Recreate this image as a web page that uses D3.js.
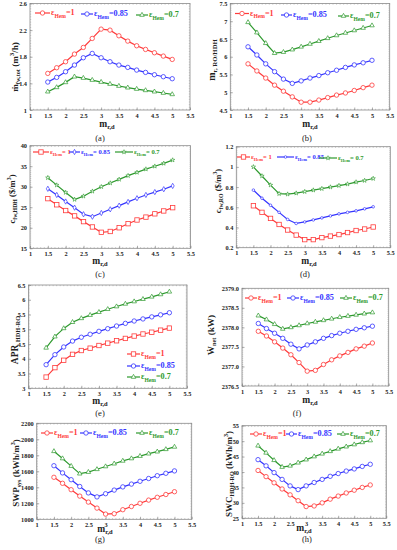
<!DOCTYPE html>
<html><head><meta charset="utf-8">
<script src="https://cdn.jsdelivr.net/npm/d3@7"></script>
<style>body{margin:0;background:#fff}svg{display:block}</style>
</head><body>
<script>
// ---------- data ----------
const xValues = [1.5,1.75,2,2.25,2.5,2.75,3,3.25,3.5,3.75,4,4.25,4.5,4.75,5];
const xTicks = [1,1.5,2,2.5,3,3.5,4,4.5,5,5.5];
const seriesNames = ["1","0.85","0.7"];

const aRed   = [1.55,1.635,1.725,1.84,1.94,2.075,2.215,2.2,2.115,2.035,1.965,1.91,1.86,1.81,1.76];
const aBlue  = [1.42,1.49,1.575,1.675,1.785,1.85,1.785,1.725,1.675,1.64,1.6,1.565,1.53,1.5,1.47];
const aGreen = [1.275,1.34,1.415,1.5,1.48,1.45,1.42,1.39,1.36,1.335,1.315,1.295,1.275,1.255,1.235];
const aTicks = [1,1.4,1.8,2.2,2.6];

const bRed   = [5.8,5.6,5.4,5.2,5.03,4.87,4.72,4.72,4.78,4.85,4.92,4.98,5.05,5.13,5.2];
const bBlue  = [6.28,6.05,5.8,5.58,5.37,5.25,5.32,5.4,5.47,5.55,5.62,5.7,5.77,5.83,5.9];
const bGreen = [6.97,6.68,6.38,6.1,6.13,6.2,6.28,6.36,6.44,6.52,6.6,6.67,6.74,6.81,6.88];
const bTicks = [4.5,5,5.5,6,6.5,7,7.5];

const cRed   = [27.1,25.6,24.2,22.9,21.5,20.2,18.9,19.1,20.0,21.0,21.9,22.6,23.4,24.1,24.9];
const cBlue  = [29.5,28.0,26.4,24.9,23.3,22.7,23.6,24.5,25.4,26.3,27.2,28.0,28.7,29.4,30.2];
const cGreen = [32.2,30.4,28.6,26.9,27.7,28.9,30.0,30.9,31.8,32.7,33.5,34.3,35.0,35.7,36.5];
const cTicks = [15,20,25,30,35,40];

const dRed   = [0.615,0.55,0.49,0.43,0.375,0.325,0.28,0.28,0.3,0.315,0.33,0.35,0.37,0.385,0.405];
const dBlue  = [0.77,0.69,0.62,0.55,0.48,0.44,0.455,0.475,0.495,0.515,0.535,0.55,0.565,0.585,0.605];
const dGreen = [1.0,0.91,0.82,0.735,0.73,0.74,0.755,0.77,0.785,0.8,0.815,0.83,0.85,0.865,0.885];
const dTicks = [0.2,0.4,0.6,0.8,1,1.2];

const eRed   = [3.38,3.7,3.95,4.15,4.28,4.36,4.45,4.53,4.61,4.69,4.77,4.84,4.9,4.97,5.04];
const eBlue  = [3.8,4.14,4.4,4.6,4.73,4.83,4.93,5.02,5.11,5.2,5.28,5.35,5.42,5.49,5.56];
const eGreen = [4.37,4.75,5.03,5.24,5.37,5.48,5.58,5.68,5.77,5.86,5.94,6.02,6.1,6.18,6.27];
const eTicks = [3,3.5,4,4.5,5,5.5,6,6.5];

const fRed   = [2377.9,2377.78,2377.63,2377.47,2377.3,2377.1,2376.88,2376.9,2377.05,2377.17,2377.27,2377.36,2377.45,2377.52,2377.6];
const fBlue  = [2378.1,2377.97,2377.85,2377.72,2377.57,2377.45,2377.55,2377.63,2377.72,2377.79,2377.85,2377.9,2377.95,2377.99,2378.03];
const fGreen = [2378.3,2378.2,2378.08,2377.96,2378.0,2378.05,2378.1,2378.14,2378.18,2378.22,2378.26,2378.29,2378.32,2378.35,2378.38];
const fTicks = [2376.5,2377.0,2377.5,2378.0,2378.5,2379.0];

const gRed   = [1525,1450,1370,1290,1215,1140,1065,1070,1120,1160,1200,1240,1275,1310,1345];
const gBlue  = [1670,1580,1495,1410,1330,1280,1320,1365,1405,1440,1475,1510,1545,1575,1605];
const gGreen = [1850,1760,1665,1570,1590,1625,1660,1695,1730,1760,1790,1820,1845,1875,1905];
const gTicks = [1000,1200,1400,1600,1800,2000,2200];

const hRed   = [40.5,38.5,36.5,34.5,32.6,30.7,28.8,29.0,30.0,31.2,32.2,33.2,34.1,35.0,35.8];
const hBlue  = [44.0,42.0,39.8,37.6,35.5,34.3,35.5,36.6,37.6,38.6,39.5,40.3,41.0,41.8,42.5];
const hGreen = [48.5,46.2,43.8,41.6,42.0,43.0,44.0,45.0,45.9,46.7,47.5,48.2,48.9,49.6,50.2];
const hTicks = [25,30,35,40,45,50,55];

// ---------- layout / style ----------
const colors = ["#ff3b3b","#3535ff","#2e9a2e"];
const FONT = "'Liberation Serif','DejaVu Serif',serif";

const panels = [
 {tag:"(a)", data:[aRed,aBlue,aGreen], ticks:aTicks, fmt:d=>String(d), box:[30,190,3.5,110], mk:["circle","circle","tri"],
  title:[{t:"\u1E41"},{t:"fw,tot",s:1},{t:"  (m"},{t:"3",p:1},{t:"/h)"}], tsz:9.2, tx:12, ty:67,
  leg:[[35,13,15],[81,14,12],[136,15,12]], lsz:8.2, legGap:"", label:[100,141], xt:[107,127]},
 {tag:"(b)", data:[bRed,bBlue,bGreen], ticks:bTicks, fmt:d=>String(d), box:[230.3,389.7,3.5,110], mk:["circle","circle","tri"],
  title:[{t:"m"},{t:"r, RO/HDH",s:1}], tsz:10, tx:209, ty:60,
  leg:[[235,13.5,14],[281,15,11],[338,16,11]], lsz:8.2, legGap:"", label:[307,141], xt:[310,127]},
 {tag:"(c)", data:[cRed,cBlue,cGreen], ticks:cTicks, fmt:d=>String(d), box:[30,190.5,145.7,248.3], mk:["square","diamond","star"],
  title:[{t:"c"},{t:"fw,HDH",s:1},{t:" ($/m"},{t:"3",p:1},{t:")"}], tsz:8.6, tx:9, ty:199,
  leg:[[33,152,16],[69,152,11],[115,152,18]], lsz:6.6, legGap:" ", label:[100,277], xt:[100,264]},
 {tag:"(d)", data:[dRed,dBlue,dGreen], ticks:dTicks, fmt:d=>String(d), box:[236.3,390.3,146.7,247.7], mk:["square","dot","star"],
  title:[{t:"c"},{t:"fw,RO",s:1},{t:" ($/m"},{t:"3",p:1},{t:")"}], tsz:8.6, tx:215, ty:191,
  leg:[[237,157,13],[277,157,17],[319,158,18]], lsz:6.6, legGap:" ", label:[305,277], xt:[309,264]},
 {tag:"(e)", data:[eRed,eBlue,eGreen], ticks:eTicks, fmt:d=>String(d), box:[28.5,187,285,388.3], mk:["square","circle","tri"],
  title:[{t:"APR "},{t:"HDH-RO",s:1}], tsz:9.5, tx:12, ty:340,
  leg:[[127,354,13],[127,366,13],[127,377,13]], lsz:8.2, legGap:"", label:[100,416], xt:[100,404]},
 {tag:"(f)", data:[fRed,fBlue,fGreen], ticks:fTicks, fmt:d3.format(".1f"), box:[242,388.7,288.3,386], mk:["circle","circle","tri"],
  title:[{t:"\u1E86"},{t:"net",s:1},{t:"  (kW)"}], tsz:9.2, tx:208, ty:335,
  leg:[[245,298,12],[287,298,12],[340,298,12]], lsz:8.2, legGap:"", label:[297,416], xt:[310,403]},
 {tag:"(g)", data:[gRed,gBlue,gGreen], ticks:gTicks, fmt:d=>String(d), box:[36.7,191.7,423.3,519.3], mk:["circle","circle","tri"],
  title:[{t:"SWP"},{t:"sys",s:1},{t:" (kWh/m"},{t:"3",p:1},{t:")"}], tsz:9, tx:13, ty:473,
  leg:[[41,433,12],[80,433,12],[136,433,12]], lsz:8.2, legGap:"", label:[100,542], xt:[105,532]},
 {tag:"(h)", data:[hRed,hBlue,hGreen], ticks:hTicks, fmt:d=>String(d), box:[242,386.3,425.7,518.3], mk:["circle","circle","tri"],
  title:[{t:"SWC"},{t:"HDH-RO",s:1},{t:" (kWh/m"},{t:"3",p:1},{t:")"}], tsz:9, tx:226, ty:474,
  leg:[[250,434,12],[286,434,11],[337,434,12]], lsz:8.2, legGap:"", label:[307,542], xt:[304,531]}
];

const svg = d3.select("body").append("svg").attr("width",397).attr("height",550)
  .attr("font-family",FONT);

function richText(sel, parts, size){
  parts.forEach((p,i)=>{
    const ts = sel.append("tspan").text(p.t);
    if(p.s){ ts.attr("font-size",size*0.68).attr("dy",size*0.25); }
    else if(p.p){ ts.attr("font-size",size*0.68).attr("dy",-size*0.4); }
    else { ts.attr("font-size",size); }
    const prev = parts[i-1];
    if(prev && !p.s && !p.p){
      if(prev.s) ts.attr("dy",-size*0.25);
      if(prev.p) ts.attr("dy",size*0.4);
    }
  });
}

function marker(g, type, x, y, color){
  const r = 2.2;
  if(type==="circle") g.append("circle").attr("cx",x).attr("cy",y).attr("r",r).attr("fill","#fff").attr("stroke",color).attr("stroke-width",0.8);
  else if(type==="square") g.append("rect").attr("x",x-r).attr("y",y-r).attr("width",2*r).attr("height",2*r).attr("fill","#fff").attr("stroke",color).attr("stroke-width",0.8);
  else if(type==="tri") g.append("path").attr("d",d3.symbol(d3.symbolTriangle,9)()).attr("transform",`translate(${x},${y})`).attr("fill","#fff").attr("stroke",color).attr("stroke-width",0.7);
  else if(type==="diamond") g.append("path").attr("d",d3.symbol(d3.symbolDiamond,8)()).attr("transform",`translate(${x},${y})`).attr("fill","#fff").attr("stroke",color).attr("stroke-width",0.7);
  else if(type==="star") g.append("path").attr("d",d3.symbol(d3.symbolStar,6)()).attr("transform",`translate(${x},${y})`).attr("fill","#fff").attr("stroke",color).attr("stroke-width",0.6);
  else if(type==="dot") g.append("circle").attr("cx",x).attr("cy",y).attr("r",1.3).attr("fill","#fff").attr("stroke",color).attr("stroke-width",0.7);
}

panels.forEach(P=>{
  const [x0,x1,y0,y1] = P.box;
  const yMin = P.ticks[0], yMax = P.ticks[P.ticks.length-1];
  const xs = d3.scaleLinear().domain([1,5.5]).range([x0,x1]);
  const ys = d3.scaleLinear().domain([yMin,yMax]).range([y1,y0]);
  const g = svg.append("g");

  g.append("rect").attr("x",x0).attr("y",y0).attr("width",x1-x0).attr("height",y1-y0)
   .attr("fill","none").attr("stroke","#8a8a8a").attr("stroke-width",0.8);

  const xMinor = d3.range(0,46).map(i=>1+i*0.1);
  xMinor.forEach(v=>{
    const px = xs(v);
    g.append("line").attr("x1",px).attr("x2",px).attr("y1",y1).attr("y2",y1-1.2).attr("stroke","#999").attr("stroke-width",0.5);
    g.append("line").attr("x1",px).attr("x2",px).attr("y1",y0).attr("y2",y0+1.2).attr("stroke","#999").attr("stroke-width",0.5);
  });
  const yStep = (P.ticks[1]-P.ticks[0])/10;
  d3.range(0, Math.round((yMax-yMin)/yStep)+1).forEach(i=>{
    const py = ys(yMin+i*yStep);
    g.append("line").attr("x1",x0).attr("x2",x0+1.2).attr("y1",py).attr("y2",py).attr("stroke","#999").attr("stroke-width",0.5);
    g.append("line").attr("x1",x1).attr("x2",x1-1.2).attr("y1",py).attr("y2",py).attr("stroke","#999").attr("stroke-width",0.5);
  });

  const ax = g.append("g").attr("transform",`translate(0,${y1})`)
    .call(d3.axisBottom(xs).tickValues(xTicks).tickFormat(d=>String(d)).tickSize(-2.5).tickPadding(4));
  const ay = g.append("g").attr("transform",`translate(${x0},0)`)
    .call(d3.axisLeft(ys).tickValues(P.ticks).tickFormat(P.fmt).tickSize(-2.5).tickPadding(3));
  [ax,ay].forEach(a=>{
    a.select(".domain").remove();
    a.selectAll(".tick line").attr("stroke","#777").attr("stroke-width",0.6);
    a.selectAll(".tick text").attr("font-family",FONT).attr("font-weight","bold").attr("font-size",6.3).attr("fill","#222");
  });
  ax.selectAll(".tick text").attr("dy","0.6em");

  P.data.forEach((vals,si)=>{
    const pts = xValues.map((x,i)=>[xs(x),ys(vals[i])]);
    g.append("path").attr("d",d3.line()(pts)).attr("fill","none").attr("stroke",colors[si]).attr("stroke-width",1.2);
    pts.forEach(p=>marker(g,P.mk[si],p[0],p[1],colors[si]));
  });

  P.leg.forEach((pos,si)=>{
    const [lx,ly,len] = pos;
    g.append("line").attr("x1",lx).attr("x2",lx+len).attr("y1",ly).attr("y2",ly).attr("stroke",colors[si]).attr("stroke-width",1.2);
    marker(g,P.mk[si],lx+len/2,ly,colors[si]);
    const t = g.append("text").attr("x",lx+len+1).attr("y",ly+P.lsz*0.3).attr("fill",colors[si]).attr("font-weight","bold");
    richText(t,[{t:"\u03B5"},{t:"Hem",s:1},{t:"="+P.legGap+seriesNames[si]}],P.lsz);
  });

  const xt = g.append("text").attr("x",P.xt[0]).attr("y",P.xt[1]).attr("text-anchor","middle").attr("font-weight","bold").attr("fill","#222");
  richText(xt,[{t:"m"},{t:"r,d",s:1}],9.5);

  const yt = g.append("text").attr("transform",`translate(${P.tx},${P.ty}) rotate(-90)`)
    .attr("text-anchor","middle").attr("font-weight","bold").attr("fill","#222").attr("dy","0.35em");
  richText(yt,P.title,P.tsz);

  svg.append("text").attr("x",P.label[0]).attr("y",P.label[1]).attr("text-anchor","middle")
    .attr("font-size",8.5).attr("fill","#222").text(P.tag);
});
</script>
</body></html>
